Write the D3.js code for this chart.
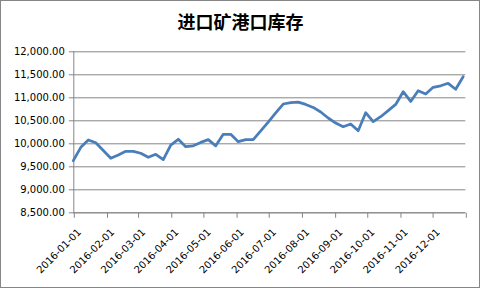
<!DOCTYPE html>
<html>
<head>
<meta charset="utf-8">
<script src="https://cdn.jsdelivr.net/npm/d3@7"></script>
<style>
  body { margin: 0; background: #fff; }
  svg { display: block; }
</style>
</head>
<body>
<div id="chart"></div>
<script>
// weekly port stock of imported ore, 2016
const dates = [
  "2016-01-01","2016-01-08","2016-01-15","2016-01-22","2016-01-29",
  "2016-02-05","2016-02-12","2016-02-19","2016-02-26",
  "2016-03-04","2016-03-11","2016-03-18","2016-03-25",
  "2016-04-01","2016-04-08","2016-04-15","2016-04-22","2016-04-29",
  "2016-05-06","2016-05-13","2016-05-20","2016-05-27",
  "2016-06-03","2016-06-10","2016-06-17","2016-06-24",
  "2016-07-01","2016-07-08","2016-07-15","2016-07-22","2016-07-29",
  "2016-08-05","2016-08-12","2016-08-19","2016-08-26",
  "2016-09-02","2016-09-09","2016-09-16","2016-09-23","2016-09-30",
  "2016-10-07","2016-10-14","2016-10-21","2016-10-28",
  "2016-11-04","2016-11-11","2016-11-18","2016-11-25",
  "2016-12-02","2016-12-09","2016-12-16","2016-12-23","2016-12-30"
];
const stock = [
  9622, 9913, 10072, 10013, 9845,
  9674, 9745, 9826, 9826,
  9783, 9696, 9761, 9645,
  9960, 10087, 9926, 9945, 10020,
  10080, 9945, 10196, 10196,
  10035, 10080, 10078, 10270,
  10460, 10660, 10854, 10885, 10895,
  10845, 10780, 10680, 10550,
  10440, 10360, 10420, 10274, 10665,
  10470, 10578, 10709, 10845,
  11122, 10910, 11144, 11072,
  11217, 11250, 11304, 11174, 11448
];
const yTicks = [8500, 9000, 9500, 10000, 10500, 11000, 11500, 12000];
const title = "进口矿港口库存";

const parseDate = d3.timeParse("%Y-%m-%d");
const data = dates.map((d, i) => ({ date: parseDate(d), value: stock[i] }));

const W = 481, H = 289;
const margin = {top: 51.3, right: 15.7, bottom: 76.7, left: 73.3},
    width = W - margin.left - margin.right,
    height = H - margin.top - margin.bottom;

const svg = d3.select("#chart").append("svg")
    .attr("width", W)
    .attr("height", H);

// outer frame
svg.append("rect")
    .attr("x", 0.5).attr("y", 0.5)
    .attr("width", W - 2).attr("height", H - 2)
    .attr("fill", "#fff")
    .attr("stroke", "#868686");

svg.append("text")
    .attr("x", 240.5).attr("y", 29)
    .attr("text-anchor", "middle")
    .attr("font-family", "'Noto Sans CJK SC', sans-serif")
    .attr("font-weight", "bold")
    .attr("font-size", 18)
    .text(title);

const g = svg.append("g")
    .attr("transform", `translate(${margin.left},${margin.top})`);

const x = d3.scaleTime()
    .domain([parseDate("2016-01-01"), parseDate("2017-01-01")])
    .range([0, width]);

const y = d3.scaleLinear()
    .domain([8500, 12000])
    .range([height, 0]);

// gridlines
g.append("g")
  .selectAll("line")
  .data(yTicks)
  .join("line")
    .attr("x1", 0).attr("x2", width)
    .attr("y1", d => Math.round(y(d)) + 0.5)
    .attr("y2", d => Math.round(y(d)) + 0.5)
    .attr("stroke", "#868686")
    .attr("stroke-width", 1);

// y axis
const yAxis = g.append("g")
    .attr("transform", "translate(0.5,0)")
    .call(d3.axisLeft(y).tickValues(yTicks).tickSize(5).tickPadding(4)
      .tickFormat(d3.format(",.2f")));

// x axis
const xAxis = g.append("g")
    .attr("transform", `translate(0,${Math.round(height) + 0.5})`)
    .call(d3.axisBottom(x).ticks(d3.timeMonth.every(1)).tickSize(5)
      .tickFormat(d => d.getFullYear() === 2016 ? d3.timeFormat("%Y-%m-%d")(d) : ""));

[yAxis, xAxis].forEach(a => {
  a.select(".domain").attr("stroke", "#868686").attr("d", null);
  a.selectAll(".tick line").attr("stroke", "#868686");
  a.selectAll("text")
    .attr("font-family", "'DejaVu Sans', sans-serif")
    .attr("font-size", 10)
    .attr("fill", "#000");
});
yAxis.select(".domain").attr("d", `M-0,${height}V0`);
xAxis.select(".domain").attr("d", `M0,0H${width}`);
xAxis.selectAll(".tick line").attr("transform", "translate(0.5,0)");

xAxis.selectAll(".tick text")
    .attr("text-anchor", "end")
    .attr("dy", null)
    .attr("transform", "translate(8,20) rotate(-45)")
    .attr("y", 0).attr("x", 0);

// the line
g.append("path")
    .datum(data)
    .attr("fill", "none")
    .attr("stroke", "#4a7ebb")
    .attr("stroke-width", 2.75)
    .attr("stroke-linejoin", "round")
    .attr("stroke-linecap", "round")
    .attr("d", d3.line()
      .x(d => x(d.date))
      .y(d => y(d.value)));
</script>
</body>
</html>
